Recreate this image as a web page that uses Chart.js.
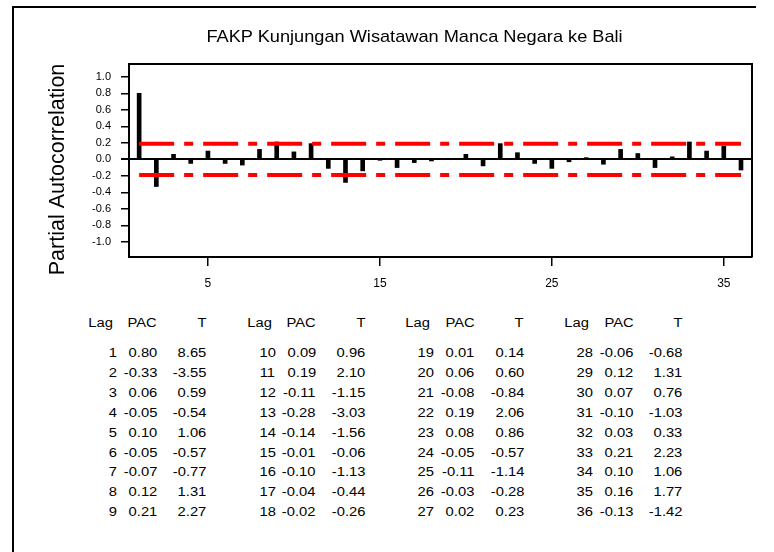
<!DOCTYPE html>
<html lang="id">
<head>
    <meta charset="UTF-8">
    <title>FAKP Kunjungan Wisatawan Manca Negara ke Bali</title>
    <script src="https://cdn.jsdelivr.net/npm/chart.js"></script>
    <style>
        html, body {
            margin: 0;
            padding: 0;
            background: #fff;
            width: 774px;
            height: 552px;
            overflow: hidden;
            font-family: "Liberation Sans", Arial, sans-serif;
        }
        #page {
            position: relative;
            width: 774px;
            height: 552px;
        }
        #frame {
            position: absolute;
            left: 12px;
            top: 6px;
            width: 742px;
            height: 560px;
            border-left: 2px solid #000;
            border-top: 2px solid #000;
        }
        #pacf {
            position: absolute;
            left: 0;
            top: 0;
        }
        #title {
            position: absolute;
            left: 0;
            top: 27px;
            width: 829px;
            text-align: center;
            font-size: 17px;
            line-height: 20px;
            color: #000;
            transform: scaleX(1.07);
            transform-origin: 414px 0;
        }
        .cell {
            position: absolute;
            font-size: 12.5px;
            line-height: 15px;
            color: #000;
            white-space: nowrap;
            text-align: right;
            transform: scaleX(1.18);
            transform-origin: right center;
        }
    </style>
</head>
<body>
<div id="page">
    <div id="frame"></div>
    <canvas id="pacf" width="774" height="300"></canvas>
    <div id="title">FAKP Kunjungan Wisatawan Manca Negara ke Bali</div>
    <div id="table"></div>
</div>

<script>
    // data (PACF table)
    const lags = [1, 2, 3, 4, 5, 6, 7, 8, 9, 10, 11, 12, 13, 14, 15, 16, 17, 18,
                  19, 20, 21, 22, 23, 24, 25, 26, 27, 28, 29, 30, 31, 32, 33, 34, 35, 36];
    const pac = [0.80, -0.33, 0.06, -0.05, 0.10, -0.05, -0.07, 0.12, 0.21,
                 0.09, 0.19, -0.11, -0.28, -0.14, -0.01, -0.10, -0.04, -0.02,
                 0.01, 0.06, -0.08, 0.19, 0.08, -0.05, -0.11, -0.03, 0.02,
                 -0.06, 0.12, 0.07, -0.10, 0.03, 0.21, 0.10, 0.16, -0.13];
    const tStat = [8.65, -3.55, 0.59, -0.54, 1.06, -0.57, -0.77, 1.31, 2.27,
                   0.96, 2.10, -1.15, -3.03, -1.56, -0.06, -1.13, -0.44, -0.26,
                   0.14, 0.60, -0.84, 2.06, 0.86, -0.57, -1.14, -0.28, 0.23,
                   -0.68, 1.31, 0.76, -1.03, 0.33, 2.23, 1.06, 1.77, -1.42];
    const xTicks = [5, 15, 25, 35];
    const yTicks = [-1.0, -0.8, -0.6, -0.4, -0.2, 0.0, 0.2, 0.4, 0.6, 0.8, 1.0];
    const limit = 0.19;   // significance limits
    // trailing nbsp pushes the rotated label a little lower, like the original
    const yTitle = 'Partial Autocorrelation\u00a0\u00a0\u00a0';

    const font = "'Liberation Sans', Arial, sans-serif";

    // box around the plot (top + right sides)
    const frameBox = {
        id: 'frameBox',
        afterDatasetsDraw(chart) {
            const a = chart.chartArea;
            const c = chart.ctx;
            c.save();
            c.strokeStyle = '#000';
            c.lineWidth = 2;
            c.beginPath();
            c.moveTo(a.left, a.top);
            c.lineTo(a.right, a.top);
            c.lineTo(a.right, a.bottom);
            c.stroke();
            c.restore();
        }
    };

    const limitLine = (v) => ({
        type: 'line',
        data: [{x: lags[0], y: v}, {x: lags[lags.length - 1], y: v}],
        borderColor: '#ff0000',
        borderWidth: 4,
        borderDash: [35, 10, 9, 10],
        pointRadius: 0,
        fill: false,
        order: 0
    });

    new Chart(document.getElementById('pacf'), {
        type: 'bar',
        data: {
            datasets: [
                limitLine(limit),
                limitLine(-limit),
                {
                    type: 'bar',
                    data: lags.map((l, i) => ({x: l, y: pac[i]})),
                    backgroundColor: '#000',
                    barThickness: 4,
                    order: 1
                }
            ]
        },
        options: {
            responsive: false,
            animation: false,
            layout: {padding: {left: 0, right: 22, top: 64, bottom: 0}},
            plugins: {
                legend: {display: false},
                tooltip: {enabled: false}
            },
            scales: {
                x: {
                    type: 'linear',
                    min: 0.41,
                    max: 36.64,
                    offset: false,
                    afterBuildTicks: s => { s.ticks = xTicks.map(v => ({value: v})); },
                    afterFit: s => { s.height = 43; },
                    grid: {drawOnChartArea: false, offset: false, tickLength: 9, color: '#000', lineWidth: 1.5},
                    border: {color: '#000', width: 2},
                    ticks: {
                        padding: 10,
                        color: '#000',
                        autoSkip: false,
                        maxRotation: 0,
                        font: {family: font, size: 12}
                    }
                },
                y: {
                    min: -1.184,
                    max: 1.155,
                    afterBuildTicks: s => { s.ticks = yTicks.map(v => ({value: v})); },
                    afterFit: s => { s.width = 129; },
                    grid: {
                        color: c => (c.tick && c.tick.value === 0) ? '#000' : 'rgba(0,0,0,0)',
                        lineWidth: c => (c.tick && c.tick.value === 0) ? 2 : 1.5,
                        tickColor: '#000',
                        tickLength: 8
                    },
                    border: {color: '#000', width: 2},
                    ticks: {
                        padding: 10,
                        color: '#000',
                        font: {family: font, size: 11},
                        callback: v => v.toFixed(1)
                    },
                    title: {
                        display: true,
                        text: yTitle,
                        color: '#000',
                        font: {family: font, size: 21.5},
                        padding: {top: 45, bottom: 0}
                    }
                }
            }
        },
        plugins: [frameBox]
    });

    // Lag / PAC / T table under the chart
    const table = document.getElementById('table');
    function cell(text, right, cy) {
        const el = document.createElement('div');
        el.className = 'cell';
        el.textContent = text;
        el.style.right = (774 - right) + 'px';
        el.style.top = (cy - 7.5) + 'px';
        table.appendChild(el);
    }
    for (let g = 0; g < 4; g++) {
        const L = 116.7 + 158.7 * g;
        cell('Lag', L - 4, 323.5);
        cell('PAC', L + 40.5, 323.5);
        cell('T', L + 90, 323.5);
        for (let r = 0; r < 9; r++) {
            const i = g * 9 + r;
            const cy = 353.5 + r * 19.9;
            cell(String(lags[i]), L, cy);
            cell(pac[i].toFixed(2), L + 40.5, cy);
            cell(tStat[i].toFixed(2), L + 90, cy);
        }
    }
</script>
</body>
</html>
